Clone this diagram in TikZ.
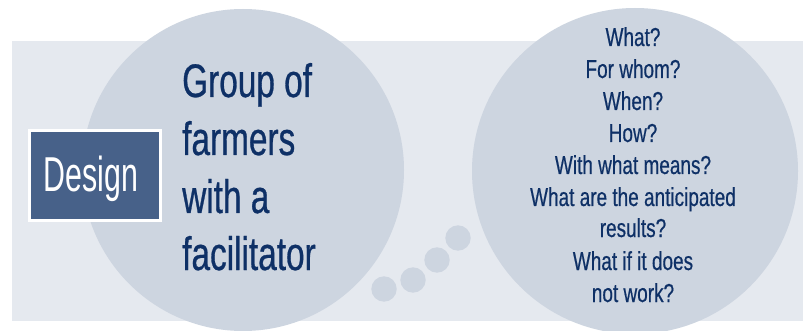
\documentclass[tikz,border=0pt]{standalone}
\usepackage{fontspec}
\setmainfont{Liberation Sans}
\newfontfamily\condfont{Liberation Sans}[FakeStretch=0.71,FakeBold=0.6]
\newfontfamily\qfont{Liberation Sans}[FakeStretch=0.73,FakeBold=0.5]
\newfontfamily\designfont{Liberation Sans}[FakeStretch=0.62]
\definecolor{bgpanel}{HTML}{E5E9EF}
\definecolor{bubble}{HTML}{CDD5E0}
\definecolor{navy}{HTML}{0E3066}
\definecolor{boxblue}{HTML}{476189}
\begin{document}
\begin{tikzpicture}[x=1pt,y=-1pt,
  bigtext/.style={font=\condfont\fontsize{47}{56}\selectfont, text=navy, inner sep=0pt, anchor=base west},
  qtext/.style={font=\qfont\fontsize{26}{30}\selectfont, text=navy, inner sep=0pt, anchor=base},
  dot/.style={fill=bubble}]
\useasboundingbox (0,0) rectangle (803,331);
\fill[white] (0,0) rectangle (803,331);
\fill[bgpanel] (12,41) rectangle (803,321);
\fill[bubble] (243,170) circle[radius=161];
\fill[bubble] (635,171) circle[radius=163];
\foreach \p in {(384,289),(413,280),(437,260),(458,238)}
  \fill[dot] \p circle[radius=12.7];
\node[draw=white, line width=2.5pt, fill=boxblue, minimum width=131pt, minimum height=90pt, inner sep=0pt] (designbox) at (95,175.5) {};
\node[font=\designfont\fontsize{49}{56}\selectfont, text=white, inner sep=0pt, anchor=base] (designlabel) at (91,192) {Design};
\foreach \t/\y [count=\i] in {Group of/97, farmers/155, with a/213, facilitator/270}
  \node[bigtext] (left\i) at (182,\y) {\t};
\foreach \t/\y [count=\i] in {What?/46, For whom?/78, When?/110, How?/142, With what means?/174, What are the anticipated/206, results?/237, What if it does/270, not work?/302}
  \node[qtext] (q\i) at (633,\y) {\t};
\end{tikzpicture}
\end{document}
